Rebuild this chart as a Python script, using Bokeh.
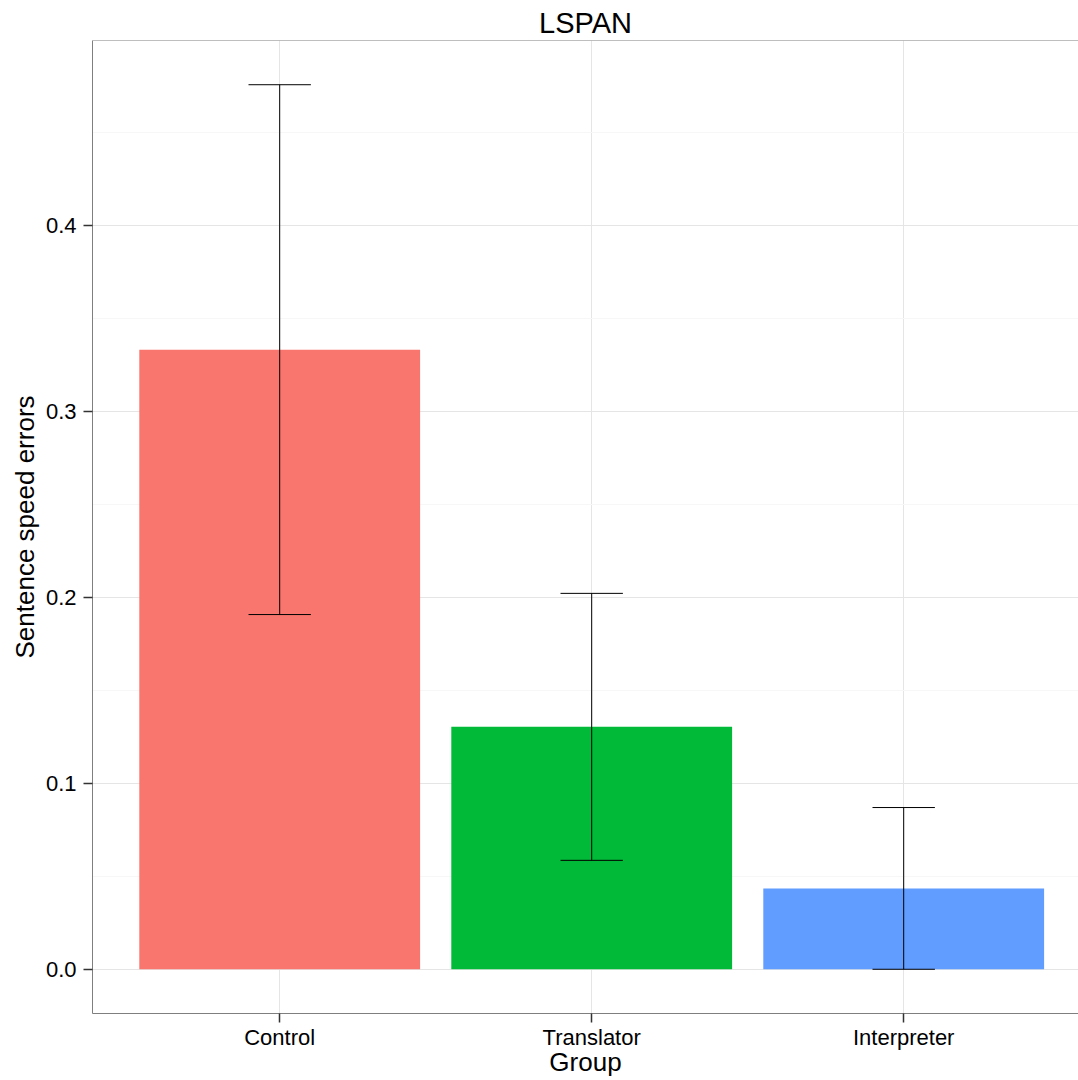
from bokeh.plotting import figure
from bokeh.models import (ColumnDataSource, Range1d, FixedTicker, Span)
from bokeh.embed import file_html
from bokeh.resources import INLINE

# Data: mean sentence speed errors per group, with standard errors
groups = ["Control", "Translator", "Interpreter"]
means = [0.3333, 0.1304, 0.0435]
se = [0.1425, 0.0718, 0.0435]
colors = ["#F8766D", "#00BA38", "#619CFF"]
y_ticks = [0.0, 0.1, 0.2, 0.3, 0.4]
y_minor = [0.05, 0.15, 0.25, 0.35, 0.45]

FONT = "Liberation Sans"
BORDER = "#7f7f7f"

xs = list(range(1, len(groups) + 1))
upper = [m + s for m, s in zip(means, se)]
lower = [m - s for m, s in zip(means, se)]
cap = 0.1  # half width of error-bar caps, in category units

src = ColumnDataSource(dict(
    x=xs, mean=means, upper=upper, lower=lower, color=colors,
    cap_l=[x - cap for x in xs], cap_r=[x + cap for x in xs],
))

# ggplot-like 5% expansion of the continuous axis
ymax = max(upper)
pad = 0.05 * ymax
y_range = Range1d(0 - pad, ymax + pad)

frame_left = 92
width = 1078
unit_px = 312  # pixels per category slot
x_range = Range1d(0.4, 0.4 + (width - frame_left) / unit_px)

p = figure(width=width, height=1080, x_range=x_range, y_range=y_range,
           output_backend="svg", toolbar_location=None,
           min_border_left=frame_left, min_border_right=0,
           min_border_top=40, min_border_bottom=67,
           title="LSPAN")

p.background_fill_color = "white"
p.border_fill_color = "white"
p.outline_line_color = None

# title
p.title.text_font = FONT
p.title.text_font_size = "29px"
p.title.text_font_style = "normal"
p.title.align = "center"
p.title.text_color = "black"
p.title.standoff = 4
p.title.offset = 5

# bars
p.vbar(x="x", top="mean", bottom=0, width=0.9, color="color",
       line_color=None, source=src)

# error bars
p.segment(x0="x", y0="lower", x1="x", y1="upper", line_color="black",
          line_width=1, source=src)
p.segment(x0="cap_l", y0="upper", x1="cap_r", y1="upper", line_color="black",
          line_width=1, source=src)
p.segment(x0="cap_l", y0="lower", x1="cap_r", y1="lower", line_color="black",
          line_width=1, source=src)

# axes
p.xaxis.ticker = FixedTicker(ticks=xs)
p.xaxis.major_label_overrides = {x: g for x, g in zip(xs, groups)}
p.yaxis.ticker = FixedTicker(ticks=y_ticks, minor_ticks=y_minor)
p.yaxis.major_label_overrides = {t: f"{t:.1f}" for t in y_ticks}

p.xaxis.axis_label = "Group"
p.yaxis.axis_label = "Sentence speed errors"

for ax in (p.xaxis[0], p.yaxis[0]):
    ax.axis_line_color = BORDER
    ax.axis_line_width = 1
    ax.major_tick_line_color = "#333333"
    ax.major_tick_line_width = 1.5
    ax.major_tick_out = 9
    ax.major_tick_in = 0
    ax.minor_tick_line_color = None
    ax.major_label_text_font = FONT
    ax.major_label_text_font_size = "22px"
    ax.major_label_text_color = "black"
    ax.axis_label_text_font = FONT
    ax.axis_label_text_font_size = "26px"
    ax.axis_label_text_font_style = "normal"
    ax.axis_label_text_color = "black"

p.xaxis.major_label_standoff = 2
p.xaxis.axis_label_standoff = -6
p.yaxis.major_label_standoff = 7
p.yaxis.axis_label_standoff = 3

# grid
p.xgrid.ticker = FixedTicker(ticks=xs)
p.xgrid.grid_line_color = "#e5e5e5"
p.xgrid.minor_grid_line_color = None
p.ygrid.grid_line_color = "#e5e5e5"
p.ygrid.minor_grid_line_color = "#f7f7f7"

# top edge of the panel border
p.add_layout(Span(location=y_range.end, dimension="width",
                  line_color=BORDER, line_width=1))

open("out.html", "w").write(file_html(p, INLINE))
